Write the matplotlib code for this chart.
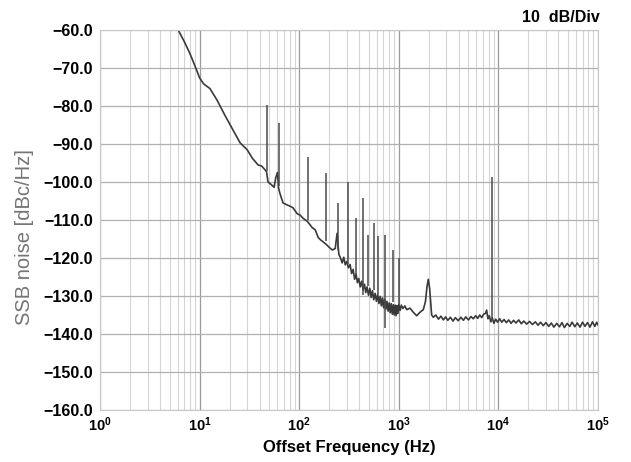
import matplotlib
matplotlib.use("Agg")
import matplotlib.pyplot as plt
from matplotlib.ticker import FixedLocator, LogLocator, NullFormatter

plt.rcParams['font.family'] = ['Liberation Sans', 'DejaVu Sans']

# phase noise trace (Hz, dBc/Hz)
freq = [6.1, 7, 8, 9, 10, 11, 12.7, 15, 18, 21.6, 25.5, 30, 34, 38.6, 42, 45.4, 47,
        48.6, 52, 56, 58, 60.5, 62, 64, 68.8, 75, 80, 86.7, 95, 102, 110, 120, 128,
        135, 145, 155, 165, 175, 190, 200, 215, 230, 240, 250,
        260, 270, 280, 290, 300, 312, 324, 336, 348, 360, 372, 384, 396, 410, 424,
        438, 452, 466, 480, 496, 512, 528, 544, 560, 578, 596, 614, 632, 650, 668,
        686, 704, 722, 740, 760, 780, 800, 820, 840, 860, 880, 900, 920, 940, 960,
        980, 1000, 1030, 1060, 1100, 1150, 1200,
        1295, 1400, 1513, 1600, 1700, 1762, 1850, 1920, 1977, 2040, 2137,
        2220, 2350, 2500, 2650, 2800, 2950, 3100, 3300, 3500, 3700, 3950, 4200,
        4450, 4700, 5000, 5300, 5600, 5900, 6200, 6500, 6800, 7100, 7400, 7620,
        7850, 8100, 8400, 8700, 9000, 9400, 9800, 10300, 10800, 11400, 12000,
        12700, 13400, 14200, 15000, 16000, 17000, 18000, 19200, 20500, 22000,
        23500, 25000, 26500, 28200, 30000, 32000, 34000, 36000, 38500, 41000,
        43500, 46000, 49000, 52000, 55000, 58500, 62000, 66000, 70000, 74000,
        78500, 83000, 88000, 93000, 97000, 100000]
noise = [-60, -63, -66.2, -69.5, -72.6, -74.2, -75.4, -78.5, -82.5, -86.3, -89.7,
         -91.5, -93.8, -95.5, -95.8, -96.8, -97.3, -100, -100.6, -101.4, -99,
         -97.5, -101.5, -103, -105.5, -106, -106.3, -106.8, -108.3, -108.7, -109.6,
         -110.3, -111.2, -112, -112.6, -114.6, -115.3, -115.8, -116.6, -117.2,
         -117.9, -117.5, -113.5, -119.0,
         -120.0, -121.3, -119.8, -121.8, -120.9, -122.6, -121.7, -124.1, -123.0,
         -125.6, -124.2, -126.5, -125.4, -127.6, -126.1, -128.4, -126.9, -129.1,
         -127.6, -129.8, -128.0, -130.4, -128.6, -131.0, -129.3, -131.4, -129.6,
         -132.0, -130.1, -132.6, -130.5, -133.1, -130.9, -133.5, -131.4, -134.0,
         -131.8, -134.4, -132.0, -134.8, -132.3, -135.0, -132.4, -135.2, -132.5,
         -134.6, -132.3, -133.8, -132.4, -133.3, -132.6, -133.6,
         -133.2, -134.3, -135.2, -134.5, -133.9, -133.6, -131.5, -127.5, -125.6,
         -128, -135,
         -135.6, -135.0, -136.1, -135.3, -136.3, -135.5, -136.4, -135.6, -136.6,
         -135.7, -136.5, -135.6, -136.4, -135.5, -136.3, -135.4, -136.0, -135.2,
         -135.9, -135.0, -135.7, -134.8, -134.6, -133.7, -136.0, -135.2, -136.8,
         -135.8, -137.2, -136.1, -136.9, -136.0, -136.9, -136.2, -137.0, -136.3,
         -137.2, -136.4, -137.1, -136.3, -137.3, -136.6, -137.4, -136.7, -137.5,
         -136.8, -137.7, -136.9, -137.8, -137.0, -138.0, -137.1, -138.2, -137.2,
         -138.1, -137.0, -138.3, -137.2, -138.0, -136.9, -138.1, -137.1, -138.2,
         -136.9, -138.0, -137.0, -138.2, -136.8, -138.0, -136.9, -137.6]

# discrete spurs: frequency, peak, lower end
spur_f = [48, 62, 123, 184, 247, 306, 368, 433, 494, 563, 622, 726, 881, 1004, 8550]
spur_top = [-79.7, -84.6, -93.3, -97.7, -105.5, -99.9, -109.4, -104.3, -114, -110.7,
            -114.2, -114, -117.9, -120, -98.6]
spur_bot = [-97, -101, -110, -115.5, -118, -121.5, -124.5, -129.7, -127.5, -128.5,
            -129.5, -138.4, -131.5, -132.5, -136.5]

yticks = [-60, -70, -80, -90, -100, -110, -120, -130, -140, -150, -160]
xticks = [1, 10, 100, 1000, 10000, 100000]
xlabels = [r'$\mathregular{10^{%d}}$' % i for i in range(6)]

fig = plt.figure(figsize=(6.31, 4.62), dpi=100)
ax = fig.add_axes([0.1585, 0.1126, 0.7892, 0.8224])

ax.plot(freq, noise, color='#3a3a3a', lw=1.2)
ax.vlines(spur_f, spur_bot, spur_top, color='#4a4a4a', lw=1.1)

ax.set_xscale('log')
ax.set_xlim(1, 1e5)
ax.set_ylim(-160, -60)
ax.xaxis.set_major_locator(FixedLocator(xticks))
ax.xaxis.set_minor_locator(LogLocator(base=10, subs=range(2, 10)))
ax.xaxis.set_minor_formatter(NullFormatter())
ax.set_xticks(xticks, xlabels)
ax.set_yticks(yticks, ['\u2212%.1f' % abs(v) for v in yticks])

ax.grid(which='major', axis='x', color='#9a9a9a', lw=0.9)
ax.grid(which='minor', axis='x', color='#d4d4d4', lw=0.8)
ax.grid(which='major', axis='y', color='#b0b0b0', lw=0.9)
ax.tick_params(which='both', length=0)
ax.tick_params(axis='y', pad=5, labelsize=11.5)
ax.tick_params(axis='x', pad=4, labelsize=10.5)
for lab in ax.get_yticklabels() + ax.get_xticklabels():
    lab.set_fontweight('bold')
for s in ax.spines.values():
    s.set_color('#c8c8c8')
    s.set_linewidth(0.8)

ax.set_xlabel('Offset Frequency (Hz)', fontsize=12, fontweight='bold', labelpad=4)
ax.set_ylabel('SSB noise [dBc/Hz]', fontsize=14.5, color='#747474')
ax.yaxis.set_label_coords(-0.133, 0.455)
fig.text(0.951, 0.962, '10  dB/Div', fontsize=11.5, fontweight='bold',
         ha='right', va='center')

fig.savefig('out.png', dpi=100)
